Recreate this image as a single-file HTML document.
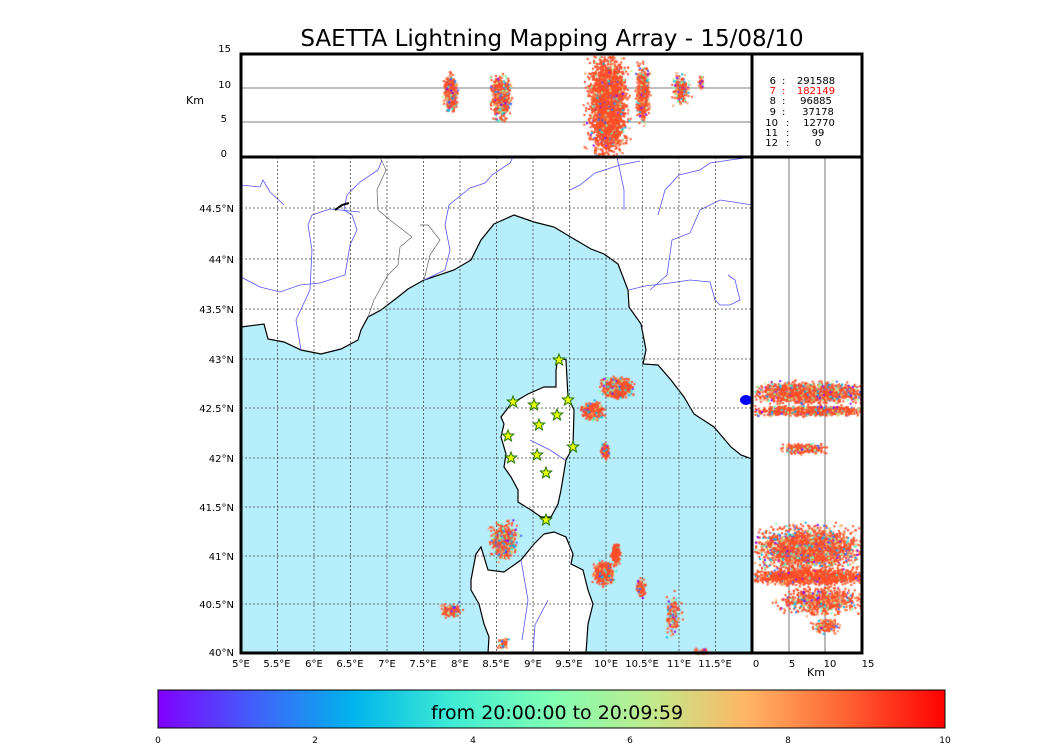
<!DOCTYPE html>
<html><head><meta charset="utf-8"><style>
body{margin:0;background:#fff;width:1050px;height:750px;overflow:hidden;font-family:"DejaVu Sans","Liberation Sans",sans-serif;}
#c{position:absolute;left:0;top:0;}
</style></head><body>
<svg width="1050" height="750" style="position:absolute;left:0;top:0">
<defs><linearGradient id="rb" x1="0" x2="1">
<stop offset="0" stop-color="#8000ff"/><stop offset="0.125" stop-color="#4062fa"/><stop offset="0.25" stop-color="#00b5eb"/><stop offset="0.375" stop-color="#40ecd4"/><stop offset="0.5" stop-color="#80ffb4"/><stop offset="0.625" stop-color="#c0eb8d"/><stop offset="0.75" stop-color="#ffb462"/><stop offset="0.875" stop-color="#ff6232"/><stop offset="1" stop-color="#ff0000"/></linearGradient></defs>
<text x="552" y="46" font-size="23" text-anchor="middle" font-family="DejaVu Sans, sans-serif">SAETTA Lightning Mapping Array - 15/08/10</text>
<rect x="241" y="157" width="511" height="496" fill="#fff"/>
<polygon fill="#b6eefc" stroke="#000" stroke-width="1.2" points="241,327 264,324 268,339 284,342 301,350 321,354 341,349 358,340 361,330 368,317 381,310 398,297 408,289 424,280 454,270 471,260 481,240 494,224 514,215 534,222 554,227 574,239 591,249 604,254 618,264 628,290 629,307 641,324 646,350 643,364 658,365 671,380 684,397 694,414 714,427 731,447 741,455 752,459 752,653 241,653"/>
<polygon fill="#fff" stroke="#000" stroke-width="1.2" points="558,357 566,360 568,397 574,410 573,447 566,460 561,490 558,504 551,517 541,517 531,510 518,502 518,490 511,477 504,467 506,454 501,437 504,424 501,417 511,404 528,394 544,387 556,387 556,370"/>
<polygon fill="#fff" stroke="#000" stroke-width="1.2" points="544,534 554,532 566,537 573,554 571,564 583,570 588,590 593,604 588,624 586,653 488,653 489,637 484,624 479,604 471,590 471,580 474,564 476,554 481,547 488,570 504,572 521,560 534,544"/>
<ellipse cx="746" cy="400" rx="6" ry="5" fill="#0000ff"/>
<g fill="none" stroke="#5555ff" stroke-width="0.8">
<polyline points="241,185 260,187 263,180 270,192 284,205"/>
<polyline points="241,277 260,287 280,292 300,285 320,283 345,275 350,245 357,230 352,215 344,210 347,195 360,182 378,170 382,160"/>
<polyline points="301,350 296,320 310,290 312,250 308,225 312,215 330,209 360,212"/>
<polyline points="424,280 445,270 450,250 445,225 449,205 470,188 485,183 492,175 510,163 513,157"/>
<polyline points="570,190 580,185 595,173 620,165 640,161"/>
<polyline points="617,157 624,190 624,210"/>
<polyline points="658,215 665,190 679,175 700,170 710,163 730,160 752,157"/>
<polyline points="650,290 667,275 672,240 690,233 700,210 720,200 740,203 752,205"/>
<polyline points="629,290 645,286 670,283 690,280 710,282 715,300 720,305 730,305 740,300 735,280 728,275"/>
<polyline points="530,440 550,450 565,460"/>
<polyline points="521,560 528,600 522,640"/>
<polyline points="548,600 535,625 533,653"/>
</g>
<g fill="none" stroke="#666" stroke-width="0.7">
<polyline points="368,317 374,300 388,275 398,265 400,247 412,237 390,220 378,210 377,190 386,170 380,157"/>
<polyline points="424,280 430,255 440,240 428,225 420,225"/>
</g>
<path d="M335,210 l7,-5 l7,-2" stroke="#000" stroke-width="2" fill="none"/>
<g stroke="#444" stroke-width="0.8" stroke-dasharray="2,2">
<line x1="277.5" y1="157" x2="277.5" y2="653"/><line x1="314" y1="157" x2="314" y2="653"/><line x1="350.5" y1="157" x2="350.5" y2="653"/><line x1="387" y1="157" x2="387" y2="653"/><line x1="423.5" y1="157" x2="423.5" y2="653"/><line x1="460" y1="157" x2="460" y2="653"/><line x1="496.5" y1="157" x2="496.5" y2="653"/><line x1="533" y1="157" x2="533" y2="653"/><line x1="569.5" y1="157" x2="569.5" y2="653"/><line x1="606" y1="157" x2="606" y2="653"/><line x1="642.5" y1="157" x2="642.5" y2="653"/><line x1="679" y1="157" x2="679" y2="653"/><line x1="715.5" y1="157" x2="715.5" y2="653"/>
<line x1="241" y1="208" x2="752" y2="208"/><line x1="241" y1="259" x2="752" y2="259"/><line x1="241" y1="309" x2="752" y2="309"/><line x1="241" y1="359" x2="752" y2="359"/><line x1="241" y1="408" x2="752" y2="408"/><line x1="241" y1="458" x2="752" y2="458"/><line x1="241" y1="507" x2="752" y2="507"/><line x1="241" y1="556" x2="752" y2="556"/><line x1="241" y1="604" x2="752" y2="604"/>
</g>
<line x1="241" y1="88" x2="752" y2="88" stroke="#555" stroke-width="0.8"/>
<line x1="241" y1="122" x2="752" y2="122" stroke="#555" stroke-width="0.8"/>
<line x1="789" y1="157" x2="789" y2="653" stroke="#555" stroke-width="0.8"/>
<line x1="825" y1="157" x2="825" y2="653" stroke="#555" stroke-width="0.8"/>
</svg>
<canvas id="c" width="1050" height="750"></canvas>
<svg width="1050" height="750" style="position:absolute;left:0;top:0">
<g fill="#e6ff00" stroke="#207000" stroke-width="1"><g id="stars"></g></g>
<g fill="none" stroke="#000" stroke-width="3">
<rect x="241" y="54" width="621" height="599"/>
<line x1="241" y1="157" x2="862" y2="157"/>
<line x1="752" y1="54" x2="752" y2="653"/>
</g>
<rect x="158" y="690" width="787" height="38" fill="url(#rb)" stroke="#000" stroke-width="1"/>
<text x="557" y="719" font-size="19" text-anchor="middle" font-family="DejaVu Sans, sans-serif">from 20:00:00 to 20:09:59</text>
<g font-size="9" font-family="DejaVu Sans, sans-serif" text-anchor="middle">
<text x="158" y="743">0</text><text x="315" y="743">2</text><text x="473" y="743">4</text><text x="630" y="743">6</text><text x="788" y="743">8</text><text x="945" y="743">10</text>
</g>
<g font-size="10" font-family="DejaVu Sans, sans-serif" text-anchor="middle">
<text x="241" y="667">5°E</text><text x="277" y="667">5.5°E</text><text x="314" y="667">6°E</text><text x="350" y="667">6.5°E</text><text x="387" y="667">7°E</text><text x="423" y="667">7.5°E</text><text x="460" y="667">8°E</text><text x="496" y="667">8.5°E</text><text x="533" y="667">9°E</text><text x="569" y="667">9.5°E</text><text x="606" y="667">10°E</text><text x="642" y="667">10.5°E</text><text x="679" y="667">11°E</text><text x="715" y="667">11.5°E</text>
<text x="756" y="667">0</text><text x="792" y="667">5</text><text x="830" y="667">10</text><text x="868" y="667">15</text>
</g>
<g font-size="10" font-family="DejaVu Sans, sans-serif" text-anchor="end">
<text x="234" y="212">44.5°N</text><text x="234" y="263">44°N</text><text x="234" y="313">43.5°N</text><text x="234" y="363">43°N</text><text x="234" y="412">42.5°N</text><text x="234" y="462">42°N</text><text x="234" y="511">41.5°N</text><text x="234" y="560">41°N</text><text x="234" y="608">40.5°N</text><text x="234" y="656">40°N</text>
<text x="231" y="52">15</text><text x="231" y="88">10</text><text x="227" y="122">5</text><text x="227" y="157">0</text>
</g>
<text x="186" y="104" font-size="11" font-family="DejaVu Sans, sans-serif">Km</text>
<text x="807" y="676" font-size="11" font-family="DejaVu Sans, sans-serif">Km</text>
<g font-size="10" font-family="DejaVu Sans, sans-serif">
<g text-anchor="end"><text x="776" y="84">6</text><text x="776" y="94" fill="#ff0000">7</text><text x="776" y="104">8</text><text x="776" y="115">9</text><text x="778" y="126">10</text><text x="778" y="136">11</text><text x="778" y="146">12</text></g>
<text x="782" y="84">:</text><text x="782" y="94" fill="#ff0000">:</text><text x="782" y="104">:</text><text x="782" y="115">:</text><text x="786" y="126">:</text><text x="786" y="136">:</text><text x="786" y="146">:</text>
<g text-anchor="middle"><text x="816" y="84">291588</text><text x="816" y="94" fill="#ff0000">182149</text><text x="816" y="104">96885</text><text x="818" y="115">37178</text><text x="819" y="126">12770</text><text x="818" y="136">99</text><text x="818" y="146">0</text></g>
</g>
</svg>
<script>
var s=1234567;function r(){s=(s*16807)%2147483647;return s/2147483647;}
function g(){return (r()+r()+r()+r()-2)/1.3;}
var cx=document.getElementById('c').getContext('2d');
var cols=['#ff4f28','#ff4f28','#ff4f28','#ff9a5c','#ffb462','#f0a070','#80ffb4','#40ecd4','#00b5eb','#4062fa','#8000ff','#c0eb8d'];
function cl(x,y,w,h,n,x0,x1,y0,y1,bias){for(var i=0;i<n;i++){var px=x+g()*w,py=y+g()*h;if(px<x0||px>x1||py<y0||py>y1)continue;var c=r()<bias?'#ff4f28':cols[Math.floor(r()*cols.length)];cx.fillStyle=c;cx.fillRect(px,py,2,2);}}
var M=[241,752,157,653];
function m(x,y,w,h,n,b){cl(x,y,w,h,n,M[0],M[1],M[2],M[3],b);}
m(617,387,14,9,900,0.6);m(592,410,10,8,500,0.6);m(604,450,4,7,150,0.7);
m(503,540,12,16,700,0.4);m(603,572,9,11,600,0.75);m(615,553,4,10,200,0.85);
m(640,587,4,8,150,0.6);m(672,615,8,18,150,0.4);m(450,610,10,7,200,0.5);
m(502,643,5,5,80,0.5);m(700,652,8,4,60,0.5);
var T=[241,750,55,155];
function t(x,y,w,h,n,b){cl(x,y,w,h,n,T[0],T[1],T[2],T[3],b);}
t(450,93,6,16,700,0.45);t(500,97,9,20,900,0.45);t(607,105,18,48,3000,0.8);t(642,93,6,26,600,0.65);t(680,88,8,14,250,0.4);t(700,82,3,6,40,0.5);
var R=[754,861,158,652];
function q(x,y,w,h,n,b){cl(x,y,w,h,n,R[0],R[1],R[2],R[3],b);}
q(808,392,55,10,1800,0.6);q(808,410,55,5,900,0.7);q(805,448,20,5,300,0.65);
q(808,548,55,22,2200,0.55);q(808,576,55,7,1600,0.8);q(820,600,38,14,800,0.55);q(825,625,14,7,150,0.5);
var st=[[559,360],[513,402],[534,405],[568,400],[539,425],[557,415],[508,436],[573,447],[511,458],[537,455],[546,473],[546,520]];
var h='';st.forEach(function(p){var pts='';for(var k=0;k<10;k++){var a=-Math.PI/2+k*Math.PI/5,rr=k%2?2.6:6;pts+=(p[0]+rr*Math.cos(a)).toFixed(1)+','+(p[1]+rr*Math.sin(a)).toFixed(1)+' ';}h+='<polygon points="'+pts+'"/>';});
document.getElementById('stars').innerHTML=h;
</script>
</body></html>
